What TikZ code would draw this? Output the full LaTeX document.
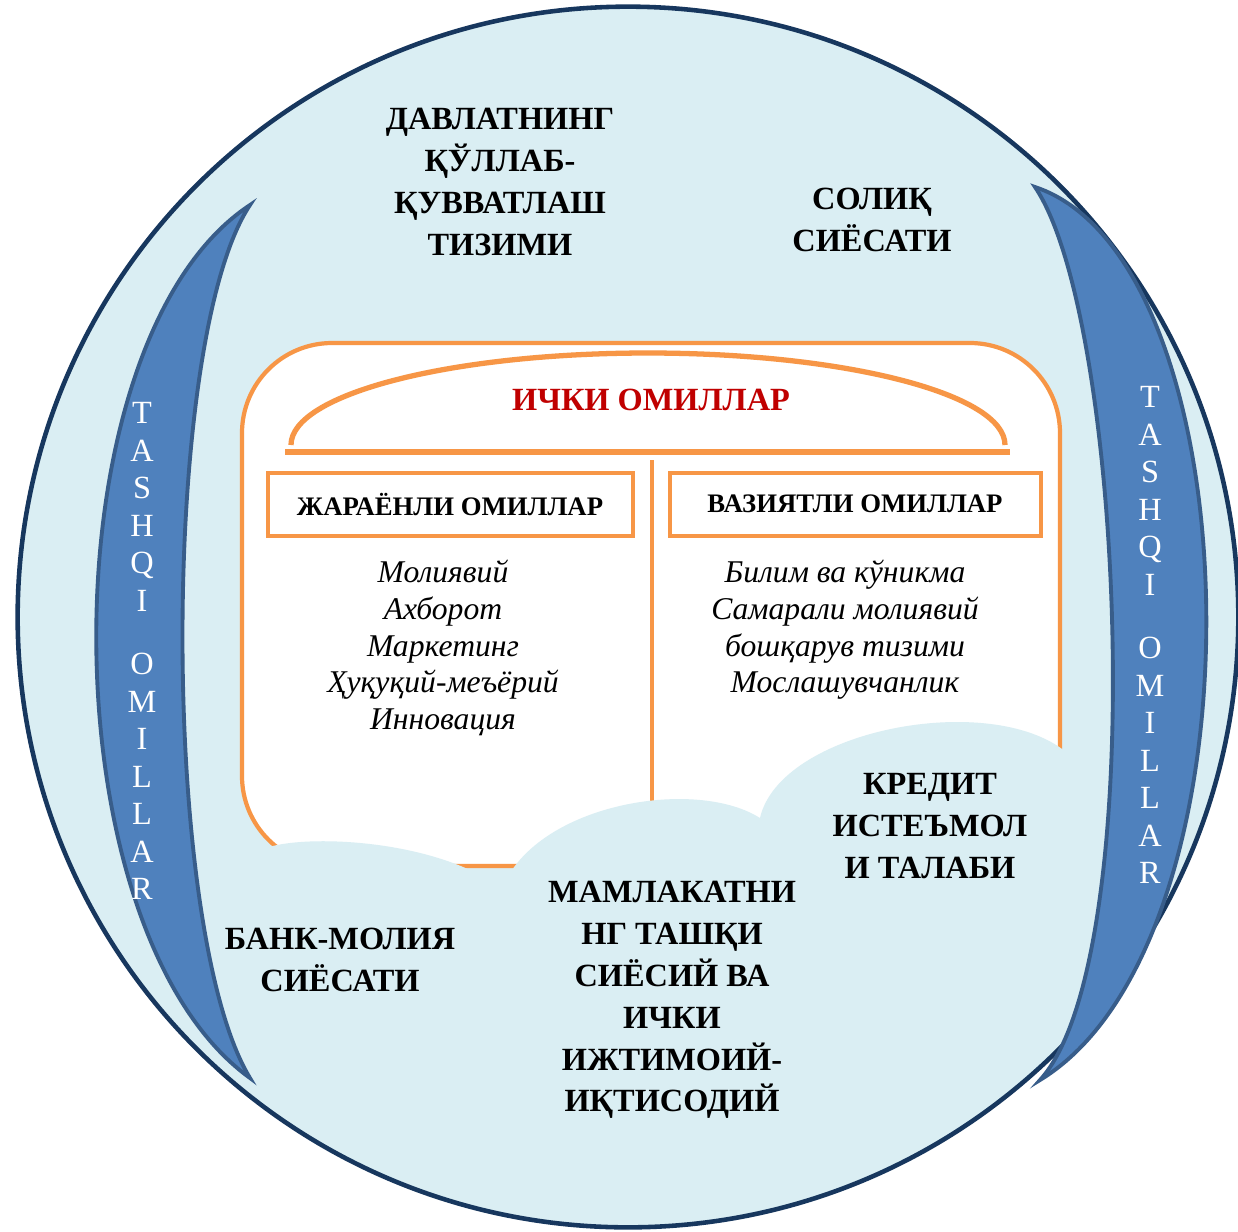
\documentclass[tikz,border=0pt]{standalone}
\usepackage{fontspec}
\setmainfont{Liberation Serif}
\usepackage{xcolor}
\usepackage{tikz}
\definecolor{skyfill}{HTML}{DAEEF3}
\definecolor{navyline}{HTML}{17375E}
\definecolor{bandfill}{HTML}{4F81BD}
\definecolor{bandline}{HTML}{385D8A}
\definecolor{orangeline}{HTML}{F79646}
\definecolor{headred}{HTML}{C00000}
\tikzstyle{caption}=[align=center,font=\fontsize{9.2}{11.9}\selectfont\bfseries]

\begin{document}
\begin{tikzpicture}[x=0.01cm,y=-0.01cm]
					\tikzstyle{band}=[fill=bandfill,draw=bandline,line width=1.1pt]
					\tikzstyle{factorbox}=[draw=orangeline,line width=1.4pt]
					\tikzstyle{itemlist}=[align=center,font=\fontsize{9}{10.4}\selectfont\itshape]
					\tikzstyle{bandtext}=[align=center,text=white,font=\fontsize{9.2}{10.66}\selectfont]
					\useasboundingbox (0,0) rectangle (1238,1232);
					% outer circle and the two bands
					\draw[fill=skyfill,draw=navyline,line width=1.3pt] (628,617) circle [radius=6.1cm];
					\draw[band] (250,205) .. controls (45,340) and (45,930) .. (250,1078)
						.. controls (160,930) and (160,340) .. (250,205) -- cycle;
					\draw[band] (1035,187) .. controls (1255,260) and (1270,940) .. (1040,1080)
						.. controls (1150,960) and (1125,320) .. (1035,187) -- cycle;
					\node[bandtext] (leftband) at (142,651) {T\\A\\S\\H\\Q\\I\\[7.4pt]O\\M\\I\\L\\L\\A\\R};
					\node[bandtext] (rightband) at (1150,635) {T\\A\\S\\H\\Q\\I\\[7.4pt]O\\M\\I\\L\\L\\A\\R};
					% inner factors
					\draw[fill=white,draw=orangeline,line width=1.2pt,rounded corners=0.9cm] (242,343) rectangle (1060,866);
					\draw[draw=orangeline,line width=1.5pt] (291,445) .. controls (291,394) and (451,353) .. (648,353)
						.. controls (845,353) and (1005,394) .. (1005,445);
					\draw[draw=orangeline,line width=1.6pt] (285,452) -- (1010,452);
					\draw[draw=orangeline,line width=1.2pt] (652,460) -- (652,820);
					\node[font=\fontsize{9.2}{11.9}\selectfont\bfseries,text=headred] (innerhead) at (651,400) {ИЧКИ ОМИЛЛАР};
					\draw[factorbox] (268,473) rectangle (633,536);
					\draw[factorbox] (670,473) rectangle (1041,536);
					\node[font=\fontsize{7.6}{9}\selectfont\bfseries] (procbox) at (450,504) {ЖАРАЁНЛИ ОМИЛЛАР};
					\node[font=\fontsize{7.6}{9}\selectfont\bfseries] (sitbox) at (855,504) {ВАЗИЯТЛИ ОМИЛЛАР};
					\node[itemlist] (proclist) at (443,648) {Молиявий\\Ахборот\\Маркетинг\\Ҳуқуқий-меъёрий\\Инновация};
					\node[itemlist] (sitlist) at (845,630) {Билим ва кўникма\\Самарали молиявий\\бошқарув тизими\\Мослашувчанлик};
					% clouds over the bottom of the frame
					\fill[skyfill] (266,848) .. controls (300,836) and (400,838) .. (470,870) -- (512,870)
						.. controls (560,800) and (700,780) .. (760,818)
						.. controls (780,730) and (990,690) .. (1066,752) -- (1066,890) -- (262,890) -- cycle;
					% outer factors
					\node[caption] (statesupport) at (500,182) {ДАВЛАТНИНГ\\ҚЎЛЛАБ-\\ҚУВВАТЛАШ\\ТИЗИМИ};
					\node[caption] (taxpolicy) at (872,220) {СОЛИҚ\\СИЁСАТИ};
					\node[caption] (bankpolicy) at (340,960) {БАНК-МОЛИЯ\\СИЁСАТИ};
					\node[caption] (statepolicy) at (672,1000) {МАМЛАКАТНИ\\НГ ТАШҚИ\\СИЁСИЙ ВА\\ИЧКИ\\ИЖТИМОИЙ-\\ИҚТИСОДИЙ};
					\node[caption] (creditdemand) at (930,826) {КРЕДИТ\\ИСТЕЪМОЛ\\И ТАЛАБИ};
					\end{tikzpicture}
\end{document}
